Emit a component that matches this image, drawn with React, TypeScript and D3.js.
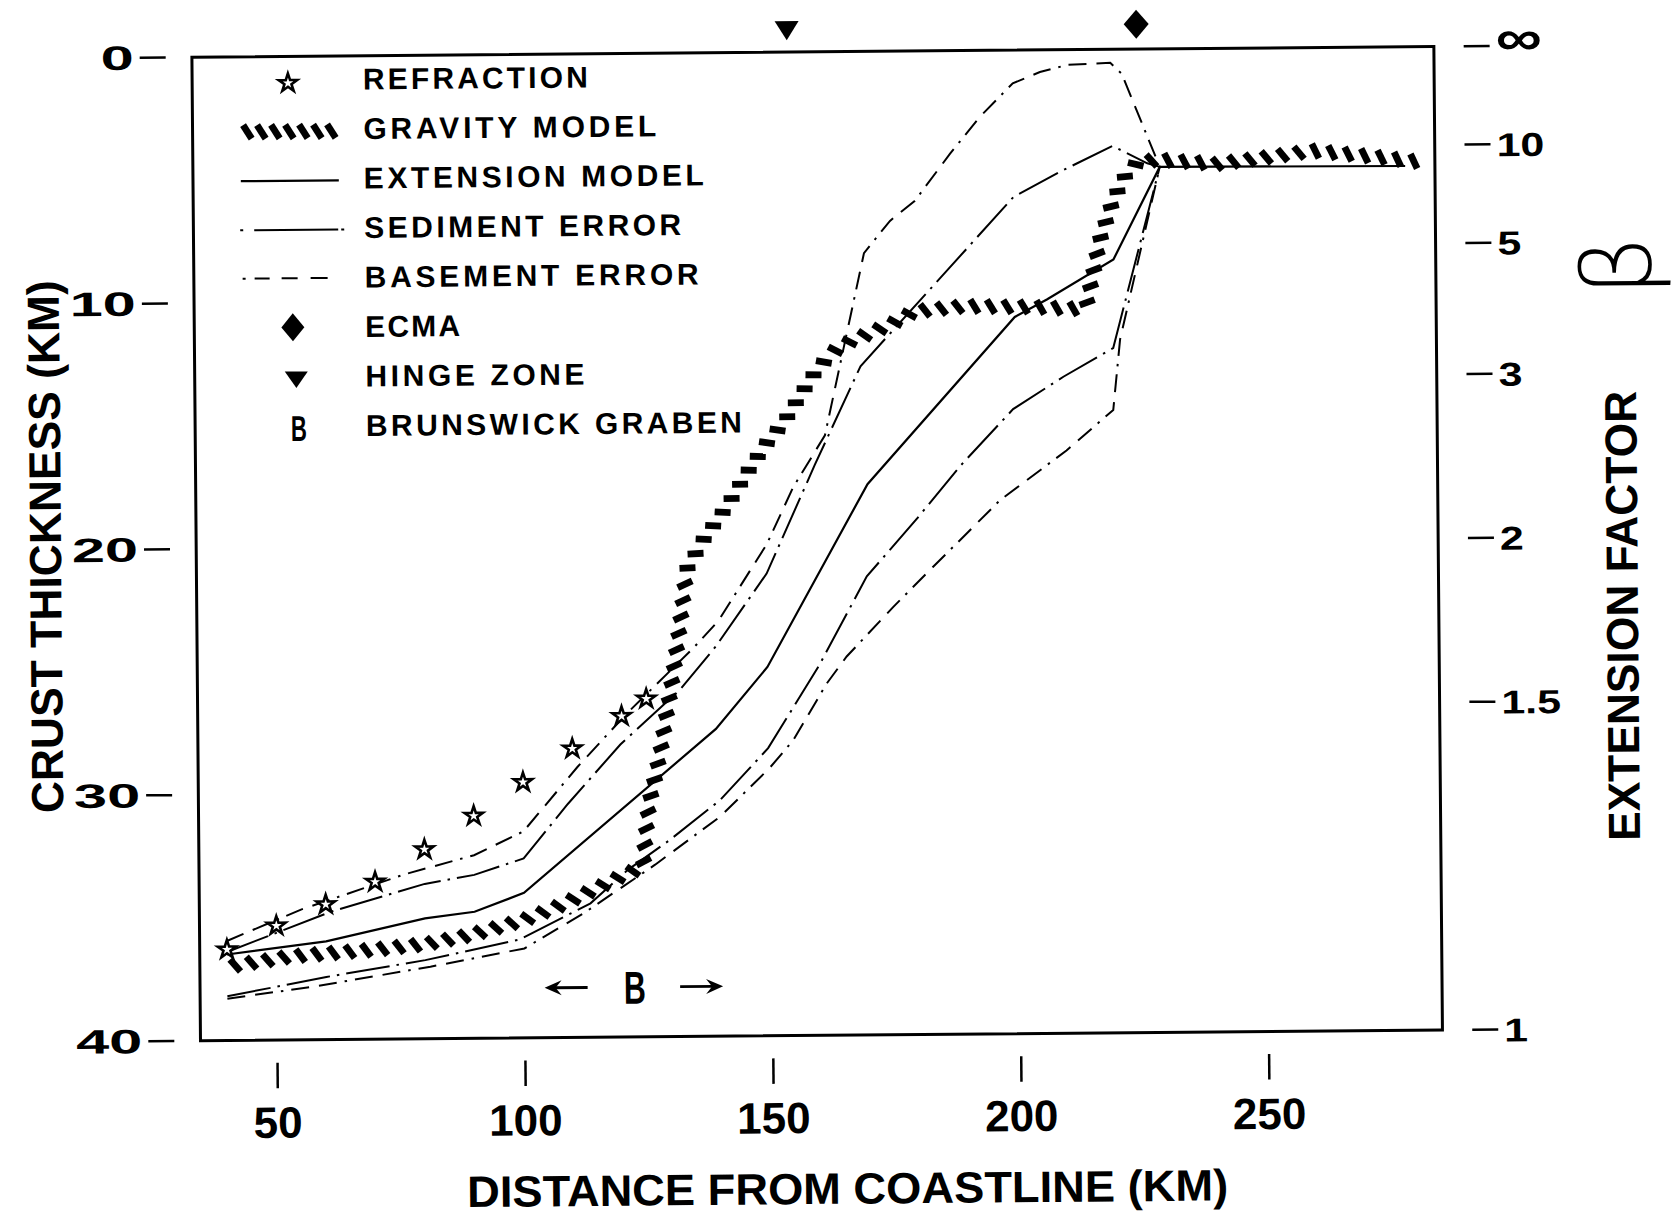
import React from 'react';
import * as d3 from 'd3';

// Refraction crustal thickness estimates (distance km, thickness km)
const refractionKm = [40, 50, 60, 70, 80, 90, 100, 110, 120, 125];
const refractionDepth = [36.3, 35.35, 34.5, 33.6, 32.3, 30.95, 29.6, 28.25, 26.95, 26.25];

// Gravity model crust profile
const gravityKm = [40, 53, 70, 80, 89, 100, 107, 114, 120.8, 124.1, 124.6, 125.4, 126.6, 127.8, 128.8, 129.7, 130.6, 131.9, 133.4, 136.8, 141.6, 145.7, 149.7, 153.1, 156.5, 159.9, 163.3, 166.7, 171.5, 175.5, 179.6, 189.6, 203, 213.2, 214.6, 215.9, 217.3, 220.1, 222.8, 224.9, 229, 241, 251, 260.5, 270, 276.6, 283];
const gravityDepth = [37.0, 36.6, 36.35, 36.15, 35.8, 35.2, 34.65, 34.0, 33.35, 33.08, 31.9, 30.5, 29.5, 28.4, 27.2, 26.2, 25.1, 23.3, 21.0, 19.8, 18.45, 17.1, 15.9, 15.1, 14.0, 12.95, 12.2, 11.8, 11.4, 11.05, 10.6, 10.4, 10.45, 10.55, 10.3, 9.1, 7.75, 6.1, 5.05, 4.64, 4.5, 4.7, 4.45, 4.2, 4.4, 4.55, 4.72];

// Extension model crust profile
const extensionKm = [40, 60, 80, 90, 100, 139, 149.5, 170, 200, 206.5, 220, 229.5, 279];
const extensionDepth = [36.5, 36.0, 35.1, 34.85, 34.1, 27.5, 25.0, 17.6, 10.85, 10.15, 8.55, 4.8, 4.85];

// Sediment error envelope
const sedimentUpperKm = [40, 61, 80, 90, 100, 109, 119.7, 131.8, 139.1, 149.5, 159.4, 168.8, 200, 210, 220, 227, 229.5];
const sedimentUpperDepth = [36.4, 34.8, 33.7, 33.35, 32.7, 30.5, 28.1, 25.9, 24.15, 21.2, 16.8, 12.8, 5.96, 4.9, 3.93, 4.65, 4.8];
const sedimentLowerKm = [40, 60, 80, 99, 113.4, 121, 129.5, 139.7, 149.5, 159.8, 169.7, 180, 188.7, 199.5, 209.7, 219.8, 229.5];
const sedimentLowerDepth = [38.2, 37.45, 36.8, 36.0, 34.55, 33.2, 32.0, 30.4, 28.3, 25.0, 21.35, 19.0, 16.9, 14.6, 13.3, 12.15, 4.8];

// Basement error envelope
const basementUpperKm = [40, 55, 76, 90, 100, 111, 121, 134.6, 139.7, 149.6, 155, 161.5, 169.7, 175, 180, 187.2, 193.3, 200, 205.5, 211, 219.7, 222, 229.5];
const basementUpperDepth = [35.95, 34.7, 33.3, 32.55, 31.6, 29.0, 26.85, 24.2, 23.1, 20.0, 17.7, 15.6, 8.2, 6.9, 6.1, 4.2, 2.7, 1.35, 0.9, 0.62, 0.55, 1.0, 4.8];
const basementLowerKm = [40, 57, 81, 100, 112, 126.5, 139.7, 149.8, 154.6, 161.4, 165.5, 175, 183, 188.6, 196.7, 210.2, 219.7, 221.2, 224.7, 229.5];
const basementLowerDepth = [38.3, 37.85, 37.07, 36.36, 34.95, 33.0, 31.07, 29.1, 27.98, 25.7, 24.6, 22.6, 21.0, 19.9, 18.3, 16.3, 14.67, 11.8, 8.85, 4.8];

// Structural markers
const hingeZoneKm = 154.5;
const ecmaKm = 225;
const brunswickGrabenKm = [104, 140];
const brunswickLabelKm = 122.2;
const brunswickLabelDepth = 37.97;

// Axes
const xTicks = [50, 100, 150, 200, 250];
const yTicks = [0, 10, 20, 30, 40];
const betaTicks = [Infinity, 10, 5, 3, 2, 1.5, 1];
const betaTickLabels = ['\u221E', '10', '5', '3', '2', '1.5', '1'];
const initialThickness = 40;

const legendLabels = ['REFRACTION', 'GRAVITY MODEL', 'EXTENSION MODEL', 'SEDIMENT ERROR', 'BASEMENT ERROR', 'ECMA', 'HINGE ZONE', 'BRUNSWICK GRABEN'];
const legendTextWidths = [225, 293, 340, 317, 334, 95, 219, 376];

type Pt = [number, number];
const FONT = '"Liberation Sans", Arial, Helvetica, sans-serif';

function pairs(km: number[], depth: number[]): Pt[] {
  return km.map((k, i) => [k, depth[i]] as Pt);
}

// Short slanted bars laid along a pixel polyline (rope-like hatch)
function hatchMarks(pts: Pt[], spacing: number, len: number, tilt: number) {
  const out: { x1: number; y1: number; x2: number; y2: number }[] = [];
  let start = spacing / 2;
  for (let i = 0; i < pts.length - 1; i++) {
    const [ax, ay] = pts[i];
    const [bx, by] = pts[i + 1];
    const seg = Math.hypot(bx - ax, by - ay);
    if (seg === 0) continue;
    const ang = Math.atan2(by - ay, bx - ax) + (tilt * Math.PI) / 180;
    const dx = (Math.cos(ang) * len) / 2;
    const dy = (Math.sin(ang) * len) / 2;
    let d = start;
    while (d <= seg) {
      const t = d / seg;
      const cx = ax + (bx - ax) * t;
      const cy = ay + (by - ay) * t;
      out.push({ x1: cx - dx, y1: cy - dy, x2: cx + dx, y2: cy + dy });
      d += spacing;
    }
    start = d - seg;
  }
  return out;
}

function Hatch({ pts, spacing = 16.5 }: { pts: Pt[]; spacing?: number }) {
  const marks = hatchMarks(pts, spacing, 16, 58);
  return (
    <g stroke="#000" strokeWidth={6.8} strokeLinecap="butt">
      {marks.map((m, i) => (
        <line key={i} x1={m.x1} y1={m.y1} x2={m.x2} y2={m.y2} />
      ))}
    </g>
  );
}

function arrowHead(tipX: number, y: number, dir: number) {
  // dir = -1 points left, +1 points right
  const p = d3.path();
  p.moveTo(tipX, y);
  p.lineTo(tipX - dir * 17, y - 7.5);
  p.lineTo(tipX - dir * 11, y);
  p.lineTo(tipX - dir * 17, y + 7.5);
  p.closePath();
  return p.toString();
}

export default function App() {
  const x = d3.scaleLinear().domain([34.5, 285]).range([196.2, 1438.2]);
  const y = d3.scaleLinear().domain([0, 40]).range([51.9, 1035.4]);
  const line = d3.line<Pt>().x((d) => x(d[0])).y((d) => y(d[1]));
  const toPx = (pts: Pt[]): Pt[] => pts.map((d) => [x(d[0]), y(d[1])] as Pt);

  const gravity = pairs(gravityKm, gravityDepth);
  const extension = pairs(extensionKm, extensionDepth);
  const sedUp = pairs(sedimentUpperKm, sedimentUpperDepth);
  const sedLo = pairs(sedimentLowerKm, sedimentLowerDepth);
  const basUp = pairs(basementUpperKm, basementUpperDepth);
  const basLo = pairs(basementLowerKm, basementLowerDepth);
  const stars = pairs(refractionKm, refractionDepth);

  const starPath = d3.symbol(d3.symbolStar, 105)()!;
  const sedDash = '44 7 2.5 7';
  const basDash = '18 10 18 8 2.5 8';

  const [left, right] = x.range();
  const [top, bottom] = y.range();

  const legendBase = (i: number) => 85.5 + i * 49.5;

  const hx = x(hingeZoneKm);
  const ex = x(ecmaKm);

  const by = y(brunswickLabelDepth);
  const gx0 = x(brunswickGrabenKm[0]);
  const gx1 = x(brunswickGrabenKm[1]);

  return (
    <svg
      width={1679}
      height={1216}
      style={{ position: 'absolute', left: 0, top: 0, display: 'block', background: '#fff' }}
      fontFamily={FONT}
      fontWeight={700}
    >
      <rect x={0} y={0} width={1679} height={1216} fill="#fff" />
      <g transform="rotate(-0.5 814 546)">
        {/* plot frame */}
        <rect x={left} y={top} width={right - left} height={bottom - top} fill="none" stroke="#000" strokeWidth={3} />

        {/* left axis: crust thickness */}
        {yTicks.map((t) => (
          <g key={'y' + t}>
            <line x1={144} x2={170} y1={y(t)} y2={y(t)} stroke="#000" strokeWidth={2.5} />
            <text transform={`translate(138,${y(t) + 12}) scale(1.75,1)`} textAnchor="end" fontSize={34}>
              {t}
            </text>
          </g>
        ))}

        {/* right axis: extension factor beta = T0 / thickness */}
        {betaTicks.map((b, i) => {
          const yy = y(initialThickness / b);
          const isInf = !isFinite(b);
          return (
            <g key={'b' + i}>
              <line x1={1468} x2={1494} y1={yy} y2={yy} stroke="#000" strokeWidth={2.5} />
              <text
                transform={`translate(1500,${yy + (isInf ? 9 : 12)}) scale(1.3,1)`}
                fontSize={isInf ? 50 : 33}
              >
                {betaTickLabels[i]}
              </text>
            </g>
          );
        })}

        {/* bottom axis: distance */}
        {xTicks.map((k) => (
          <g key={'x' + k}>
            <line x1={x(k)} x2={x(k)} y1={1058} y2={1083.5} stroke="#000" strokeWidth={2.5} />
            <text x={x(k)} y={1133} textAnchor="middle" fontSize={44}>
              {k}
            </text>
          </g>
        ))}

        {/* axis titles */}
        <text transform="translate(61,540) rotate(-90)" x={-266.5} y={0} fontSize={45} textLength={533} lengthAdjust="spacingAndGlyphs">
          CRUST THICKNESS (KM)
        </text>
        <text x={461.5} y={1204} fontSize={44} textLength={761} lengthAdjust="spacingAndGlyphs">
          DISTANCE FROM COASTLINE (KM)
        </text>
        <text transform="translate(1637.4,623) rotate(-90)" x={-225} y={0} fontSize={45} textLength={450} lengthAdjust="spacingAndGlyphs">
          EXTENSION FACTOR
        </text>
        <text
          transform="translate(1620,273) rotate(-90)"
          textAnchor="middle"
          dominantBaseline="central"
          fontSize={96}
          fontWeight={200}
          fontFamily='"DejaVu Sans", sans-serif'
        >
          β
        </text>

        {/* model curves */}
        <path d={line(basUp)!} fill="none" stroke="#000" strokeWidth={2} strokeDasharray={basDash} />
        <path d={line(basLo)!} fill="none" stroke="#000" strokeWidth={2} strokeDasharray={basDash} />
        <path d={line(sedUp)!} fill="none" stroke="#000" strokeWidth={2} strokeDasharray={sedDash} />
        <path d={line(sedLo)!} fill="none" stroke="#000" strokeWidth={2} strokeDasharray={sedDash} />
        <path d={line(extension)!} fill="none" stroke="#000" strokeWidth={2.2} />
        <Hatch pts={toPx(gravity)} />

        {/* refraction points */}
        {stars.map((d, i) => (
          <path key={'s' + i} d={starPath} transform={`translate(${x(d[0])},${y(d[1])})`} fill="#fff" stroke="#000" strokeWidth={2.6} strokeLinejoin="miter" />
        ))}

        {/* hinge zone and ECMA markers above the frame */}
        <path d={`M${hx - 12},21 L${hx + 12},21 L${hx},40 Z`} fill="#000" />
        <path d={`M${ex},12.5 L${ex + 12.5},27 L${ex},41.5 L${ex - 12.5},27 Z`} fill="#000" />

        {/* Brunswick graben extent */}
        <line x1={gx0 + 10} x2={gx0 + 43} y1={by} y2={by} stroke="#000" strokeWidth={2.8} />
        <path d={arrowHead(gx0, by, -1)} fill="#000" />
        <line x1={gx1 - 43} x2={gx1 - 10} y1={by} y2={by} stroke="#000" strokeWidth={2.8} />
        <path d={arrowHead(gx1, by, 1)} fill="#000" />
        <text x={x(brunswickLabelKm) - 11} y={by + 16.5} fontSize={46} textLength={22} lengthAdjust="spacingAndGlyphs">
          B
        </text>

        {/* legend */}
        <g>
          <path d={starPath} transform={`translate(292,${legendBase(0) - 7})`} fill="#fff" stroke="#000" strokeWidth={2.6} />
          <Hatch pts={[[244, legendBase(1) - 8], [342, legendBase(1) - 8]]} spacing={14} />
          <line x1={244} x2={342} y1={legendBase(2) - 8.3} y2={legendBase(2) - 8.3} stroke="#000" strokeWidth={2.2} />
          <g stroke="#000" strokeWidth={2}>
            <line x1={243} x2={246} y1={legendBase(3) - 8.7} y2={legendBase(3) - 8.7} />
            <line x1={257} x2={341} y1={legendBase(3) - 8.7} y2={legendBase(3) - 8.7} />
            <line x1={344} x2={347} y1={legendBase(3) - 8.7} y2={legendBase(3) - 8.7} />
            <line x1={245} x2={248} y1={legendBase(4) - 9.8} y2={legendBase(4) - 9.8} />
            <line x1={257} x2={272} y1={legendBase(4) - 9.8} y2={legendBase(4) - 9.8} />
            <line x1={284} x2={300} y1={legendBase(4) - 9.8} y2={legendBase(4) - 9.8} />
            <line x1={313} x2={330} y1={legendBase(4) - 9.8} y2={legendBase(4) - 9.8} />
          </g>
          <path
            d={`M294.8,${legendBase(5) - 24.2} L306.3,${legendBase(5) - 10.2} L294.8,${legendBase(5) + 3.8} L283.3,${legendBase(5) - 10.2} Z`}
            fill="#000"
          />
          <path d={`M286.3,${legendBase(6) - 15.5} L309.3,${legendBase(6) - 15.5} L297.8,${legendBase(6) + 1} Z`} fill="#000" />
          <text x={292} y={legendBase(7) + 4.5} fontSize={36} textLength={16} lengthAdjust="spacingAndGlyphs">
            B
          </text>
          {legendLabels.map((lab, i) => (
            <text key={lab} x={367} y={legendBase(i)} fontSize={30} textLength={legendTextWidths[i]} lengthAdjust="spacing">
              {lab}
            </text>
          ))}
        </g>
      </g>
    </svg>
  );
}
